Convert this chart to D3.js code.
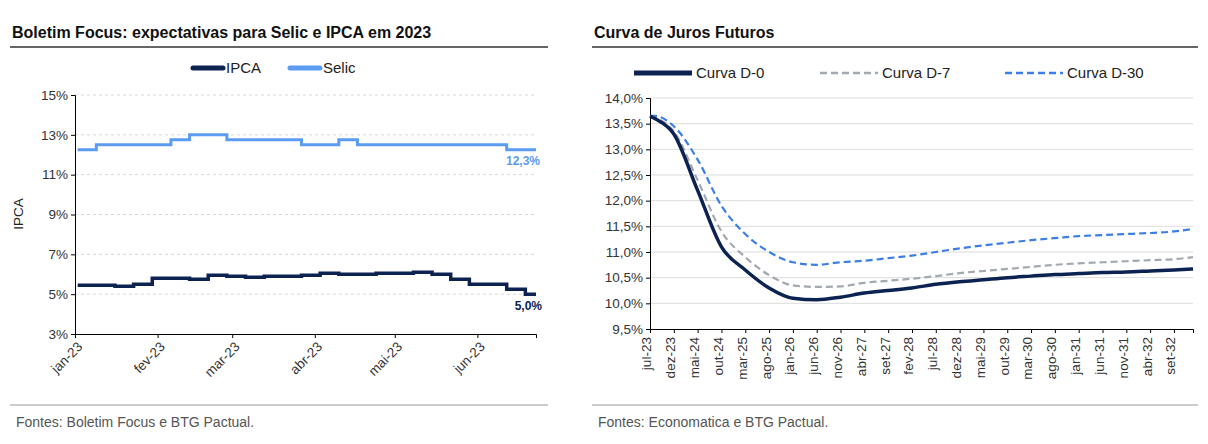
<!DOCTYPE html>
<html><head><meta charset="utf-8">
<script src="https://cdn.jsdelivr.net/npm/d3@7"></script>
<style>
body{margin:0;background:#fff;font-family:"Liberation Sans",Arial,sans-serif;}
.tick text{font-size:13.5px;fill:#333;}
</style></head><body>
<svg id="chart" width="1208" height="444"></svg>
<script>
// Focus weekly expectations (2023)
let focusDates = ["2023-01-02","2023-01-09","2023-01-16","2023-01-23","2023-01-30","2023-02-06","2023-02-13","2023-02-20","2023-02-27","2023-03-06","2023-03-13","2023-03-20","2023-03-27","2023-04-03","2023-04-10","2023-04-17","2023-04-24","2023-05-01","2023-05-08","2023-05-15","2023-05-22","2023-05-29","2023-06-05","2023-06-12","2023-06-19","2023-06-23"];
let ipca  = [5.45,5.45,5.4,5.5,5.8,5.8,5.75,5.95,5.9,5.85,5.9,5.9,5.95,6.05,6.0,6.0,6.05,6.05,6.1,6.0,5.75,5.5,5.5,5.25,5.0,5.0];
let selic = [12.25,12.5,12.5,12.5,12.5,12.75,13.0,13.0,12.75,12.75,12.75,12.75,12.5,12.5,12.75,12.5,12.5,12.5,12.5,12.5,12.5,12.5,12.5,12.25,12.25,12.25];
let focusTicks = ["2023-01-01","2023-02-01","2023-03-01","2023-04-01","2023-05-01","2023-06-01"];
let focusTickLabels = ["jan-23","fev-23","mar-23","abr-23","mai-23","jun-23"];

// Yield curves: months since jul-23
let curveMonths = [0,1,5,10,15,20,25,30,35,40,45,50,55,60,65,70,75,80,85,90,95,100,105,110,114];
let curveD0  = [13.65,13.6,13.3,12.2,11.1,10.65,10.3,10.1,10.07,10.12,10.2,10.25,10.3,10.37,10.42,10.46,10.5,10.53,10.56,10.58,10.6,10.61,10.63,10.65,10.67];
let curveD7  = [13.65,13.62,13.35,12.4,11.4,10.9,10.55,10.35,10.32,10.33,10.4,10.44,10.48,10.53,10.59,10.63,10.67,10.71,10.75,10.78,10.8,10.82,10.84,10.86,10.9];
let curveD30 = [13.65,13.65,13.45,12.8,11.9,11.35,11.0,10.8,10.75,10.8,10.83,10.88,10.93,11.0,11.07,11.13,11.18,11.23,11.27,11.31,11.33,11.35,11.37,11.4,11.45];
let curveTickLabels = ["jul-23","dez-23","mai-24","out-24","mar-25","ago-25","jan-26","jun-26","nov-26","abr-27","set-27","fev-28","jul-28","dez-28","mai-29","out-29","mar-30","ago-30","jan-31","jun-31","nov-31","abr-32","set-32"];

let svg = d3.select("#chart");
let dark = "#0c2352", light = "#5b9cf2", grey = "#a3a9b0", blue = "#3b7fe6";

// ---- panel titles & footers
function panelFrame(x0, x1, title, source) {
  svg.append("text").attr("x", x0 + 2).attr("y", 38).attr("font-size", 16).attr("font-weight", "bold").attr("fill", "#111").text(title);
  svg.append("line").attr("x1", x0).attr("x2", x1).attr("y1", 47).attr("y2", 47).attr("stroke", "#333").attr("stroke-width", 1.5);
  svg.append("line").attr("x1", x0).attr("x2", x1).attr("y1", 405).attr("y2", 405).attr("stroke", "#999").attr("stroke-width", 1);
  svg.append("text").attr("x", x0 + 6).attr("y", 427).attr("font-size", 14).attr("fill", "#555").text(source);
}
panelFrame(10, 548, "Boletim Focus: expectativas para Selic e IPCA em 2023", "Fontes: Boletim Focus e BTG Pactual.");
panelFrame(592, 1198, "Curva de Juros Futuros", "Fontes: Economatica e BTG Pactual.");

// ---- left chart
let parse = d3.timeParse("%Y-%m-%d");
let x1 = d3.scaleTime().domain([parse("2023-01-01"), parse("2023-06-23")]).range([75, 536]);
let y1 = d3.scaleLinear().domain([3, 15]).range([334, 95]);
let g1 = svg.append("g");

g1.selectAll("line.grid").data([5,7,9,11,13,15]).enter().append("line")
  .attr("x1", 75).attr("x2", 536).attr("y1", d => y1(d)).attr("y2", d => y1(d))
  .attr("stroke", "#d6d6d6").attr("stroke-dasharray", "3,3");

g1.append("g").attr("transform", "translate(75,0)")
  .call(d3.axisLeft(y1).tickValues([3,5,7,9,11,13,15]).tickFormat(d => d + "%").tickSize(4));
g1.append("g").attr("transform", "translate(0,334)")
  .call(d3.axisBottom(x1).tickValues(focusTicks.map(parse)).tickFormat((d, i) => focusTickLabels[i]).tickSize(4))
  .call(a => a.selectAll("text").style("text-anchor", "end").attr("dx", "-0.3em").attr("dy", "0.6em").attr("transform", "rotate(-45)"));

let line1 = (vals) => d3.line().curve(d3.curveStepAfter).x((d, i) => x1(parse(focusDates[i]))).y(d => y1(d))(vals);
g1.append("path").attr("d", line1(selic)).attr("fill", "none").attr("stroke", light).attr("stroke-width", 3);
g1.append("path").attr("d", line1(ipca)).attr("fill", "none").attr("stroke", dark).attr("stroke-width", 3.5);

g1.append("text").attr("x", 540).attr("y", y1(selic[selic.length - 1]) + 15).attr("text-anchor", "end")
  .attr("font-size", 12).attr("font-weight", "bold").attr("fill", light).text("12,3%");
g1.append("text").attr("x", 542).attr("y", y1(ipca[ipca.length - 1]) + 16).attr("text-anchor", "end")
  .attr("font-size", 12).attr("font-weight", "bold").attr("fill", dark).text("5,0%");
g1.append("text").attr("transform", "translate(23,214) rotate(-90)").attr("text-anchor", "middle")
  .attr("font-size", 13.5).attr("fill", "#222").text("IPCA");

// legend left
[["IPCA", dark, 193], ["Selic", light, 290]].forEach(([name, c, lx]) => {
  g1.append("line").attr("x1", lx).attr("x2", lx + 30).attr("y1", 68).attr("y2", 68).attr("stroke", c).attr("stroke-width", 5).attr("stroke-linecap", "round");
  g1.append("text").attr("x", lx + 33).attr("y", 73).attr("font-size", 15).attr("fill", "#222").text(name);
});

// ---- right chart
let x2 = d3.scaleLinear().domain([0, 114]).range([650, 1193]);
let y2 = d3.scaleLinear().domain([9.5, 14]).range([329, 98]);
let g2 = svg.append("g");
let yTicks2 = d3.range(9.5, 14.01, 0.5);

g2.selectAll("line.grid").data(yTicks2.slice(1)).enter().append("line")
  .attr("x1", 650).attr("x2", 1193).attr("y1", d => y2(d)).attr("y2", d => y2(d))
  .attr("stroke", "#dcdcdc");
g2.append("g").attr("transform", "translate(650,0)")
  .call(d3.axisLeft(y2).tickValues(yTicks2).tickFormat(d => d3.format(".1f")(d).replace(".", ",") + "%").tickSize(4));
g2.append("g").attr("transform", "translate(0,329)")
  .call(d3.axisBottom(x2).tickValues(curveTickLabels.map((d, i) => i * 5)).tickFormat((d, i) => curveTickLabels[i]).tickSize(4))
  .call(a => a.selectAll("text").style("text-anchor", "end").attr("dx", "-0.6em").attr("dy", "-0.45em").attr("transform", "rotate(-90)"));

let line2 = d3.line().curve(d3.curveMonotoneX).x((d, i) => x2(curveMonths[i])).y(d => y2(d));
g2.append("path").attr("d", line2(curveD30)).attr("fill", "none").attr("stroke", blue).attr("stroke-width", 2.2).attr("stroke-dasharray", "7,4");
g2.append("path").attr("d", line2(curveD7)).attr("fill", "none").attr("stroke", grey).attr("stroke-width", 2.2).attr("stroke-dasharray", "7,4");
g2.append("path").attr("d", line2(curveD0)).attr("fill", "none").attr("stroke", dark).attr("stroke-width", 3.5);

// legend right
[["Curva D-0", dark, 634, null, 5], ["Curva D-7", grey, 820, "7,4", 2.5], ["Curva D-30", blue, 1005, "7,4", 2.5]].forEach(([name, c, lx, dash, w]) => {
  g2.append("line").attr("x1", lx).attr("x2", lx + 58).attr("y1", 73).attr("y2", 73).attr("stroke", c).attr("stroke-width", w).attr("stroke-dasharray", dash);
  g2.append("text").attr("x", lx + 62).attr("y", 78).attr("font-size", 15).attr("fill", "#222").text(name);
});
</script></body></html>
